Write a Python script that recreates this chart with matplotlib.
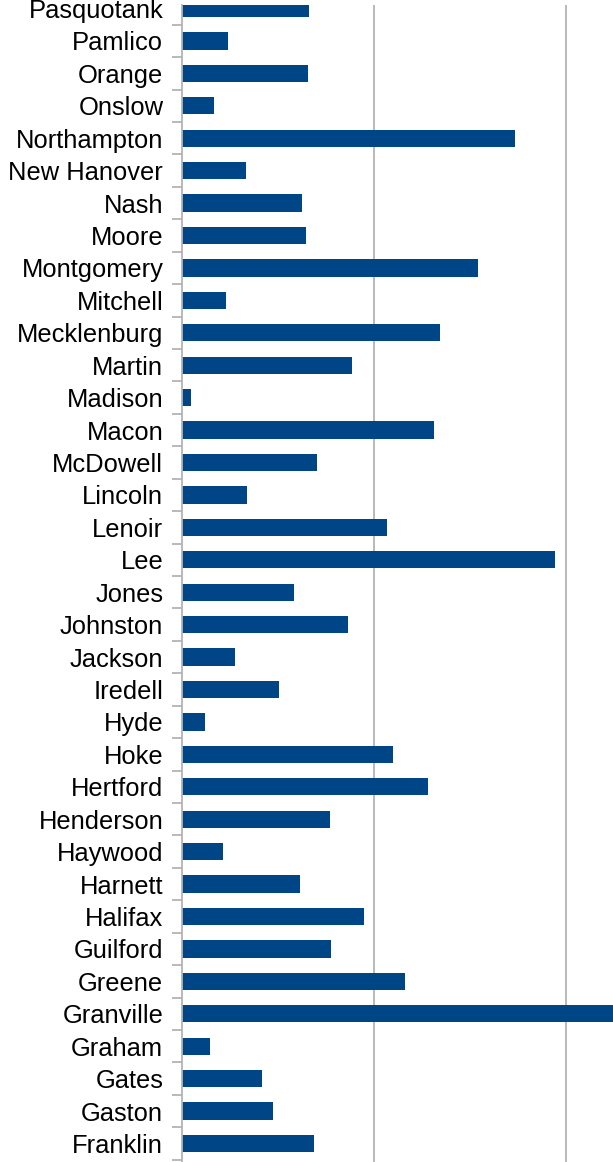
import matplotlib
matplotlib.use("Agg")
import matplotlib.pyplot as plt
import numpy as np

counties = ["Pasquotank", "Pamlico", "Orange", "Onslow", "Northampton", "New Hanover",
            "Nash", "Moore", "Montgomery", "Mitchell", "Mecklenburg", "Martin", "Madison",
            "Macon", "McDowell", "Lincoln", "Lenoir", "Lee", "Jones", "Johnston", "Jackson",
            "Iredell", "Hyde", "Hoke", "Hertford", "Henderson", "Haywood", "Harnett",
            "Halifax", "Guilford", "Greene", "Granville", "Graham", "Gates", "Gaston",
            "Franklin"]
values = [0.66, 0.24, 0.656, 0.167, 1.734, 0.333,
          0.625, 0.646, 1.542, 0.229, 1.344, 0.885, 0.047,
          1.3125, 0.703, 0.339, 1.068, 1.943, 0.583, 0.865, 0.276,
          0.505, 0.12, 1.099, 1.281, 0.771, 0.214, 0.615,
          0.948, 0.776, 1.161, 2.4, 0.146, 0.417, 0.474,
          0.6875]

W, H = 613, 1162
fig = plt.figure(figsize=(W / 100, H / 100), dpi=100)

n = len(counties)
pos = np.arange(n)[::-1]  # first county at top
px_per_cat = 32.4
top_px = 5
x0_px = 182
grid_px = 192
xmax = 3.0
right_px = x0_px + grid_px * xmax
y_top = (n - 1) + (8.5 - top_px) / px_per_cat
y_bot = -0.6
bot_px = 1143.5 + 0.6 * px_per_cat

ax = fig.add_axes([x0_px / W, 1 - bot_px / H, (right_px - x0_px) / W, (bot_px - top_px) / H])
ax.barh(pos, values, height=0.53, color="#004586", zorder=3)

for s in ["top", "right", "bottom"]:
    ax.spines[s].set_visible(False)
ax.spines["left"].set_color("#b3b3b3")
ax.spines["left"].set_linewidth(1.3)
ax.spines["left"].set_zorder(4)

ax.set_xticks([1, 2])
ax.tick_params(axis="x", length=0, labelbottom=False)
ax.grid(axis="x", color="#b3b3b3", linewidth=1.3, zorder=0)

ax.set_yticks(np.arange(-0.5, n, 1.0))
ax.set_yticklabels([])
ax.tick_params(axis="y", which="major", length=7.2, width=1.3, color="#b3b3b3", direction="out")
ax.set_yticks(pos, minor=True)
ax.set_yticklabels(counties, minor=True, fontsize=18.4, family=["Liberation Sans", "DejaVu Sans"])
ax.tick_params(axis="y", which="minor", length=0, pad=13.5, labelcolor="#000000")

ax.set_xlim(0, xmax)
ax.set_ylim(y_bot, y_top)

fig.savefig("out.png", dpi=100)
